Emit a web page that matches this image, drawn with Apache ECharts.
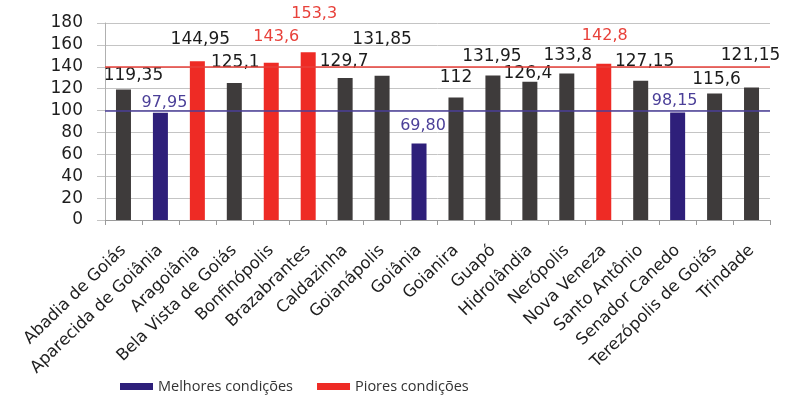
<!DOCTYPE html>
<html>
<head>
<meta charset="utf-8">
<script src="https://cdn.jsdelivr.net/npm/echarts@6/dist/echarts.min.js"></script>
<style>
  html, body { margin: 0; padding: 0; background: #ffffff; }
  #chart { width: 787px; height: 396px; }
</style>
</head>
<body>
<div id="chart"></div>
<script>
// Municípios da região
const categories = [
  'Abadia de Goiás', 'Aparecida de Goiânia', 'Aragoiânia', 'Bela Vista de Goiás',
  'Bonfinópolis', 'Brazabrantes', 'Caldazinha', 'Goianápolis', 'Goiânia', 'Goianira',
  'Guapó', 'Hidrolândia', 'Nerópolis', 'Nova Veneza', 'Santo Antônio',
  'Senador Canedo', 'Terezópolis de Goiás', 'Trindade'
];

// Índice por município, como é escrito nos rótulos
const valueTexts = [
  '119,35', '97,95', '144,95', '125,1', '143,6', '153,3', '129,7', '131,85', '69,80',
  '112', '131,95', '126,4', '133,8', '142,8', '127,15', '98,15', '115,6', '121,15'
];
const values = valueTexts.map(t => parseFloat(t.replace(',', '.')));

// Cor do rótulo: 'n' preto, 'm' melhores, 'p' piores
const labelTone = [
  'n', 'm', 'n', 'n', 'p', 'p', 'n', 'n', 'm',
  'n', 'n', 'n', 'n', 'p', 'n', 'm', 'n', 'n'
];

// Limites de referência
const betterLimit = 100;   // abaixo: melhores condições
const worseLimit = 140;    // acima: piores condições

// Eixo Y
const yTicks = [0, 20, 40, 60, 80, 100, 120, 140, 160, 180];

// Deslocamento de cada rótulo em relação ao topo da barra [dx, dy]
const labelShift = [
  [10, -5], [4, -2], [3, -13], [1, -12], [5, -18], [6, -30], [-1, -8], [0, -28], [4, -10],
  [0, -11], [-1, -11], [-2, 0], [1, -9], [1, -20], [4, -11], [-3, -4], [2, -5], [-1, -23]
];

const FONT = 'DejaVu Sans';
const GRAY = '#3e3b3b';
const BLUE = '#2e1f7a';
const RED = '#ee2b25';
const BLUE_TXT = '#4b3f98';
const RED_TXT = '#e8413a';

const toneStyle = {
  n: { color: '#1c1c1c', fontSize: 17 },
  m: { color: BLUE_TXT, fontSize: 16 },
  p: { color: RED_TXT, fontSize: 16 }
};

function groupOf(v) {
  if (v < betterLimit) return 'melhor';
  if (v > worseLimit) return 'pior';
  return 'demais';
}

function buildData(group) {
  return values.map((v, i) => {
    if (groupOf(v) !== group) return '-';
    const tone = toneStyle[labelTone[i]];
    return {
      value: v,
      label: {
        show: true,
        position: 'top',
        align: 'center',
        distance: 0,
        offset: labelShift[i],
        formatter: valueTexts[i],
        color: tone.color,
        fontFamily: FONT,
        fontSize: tone.fontSize
      }
    };
  });
}

const chart = echarts.init(document.getElementById('chart'), null, { renderer: 'canvas' });

chart.setOption({
  animation: false,
  backgroundColor: '#ffffff',
  grid: { left: 105, right: 17, top: 23, bottom: 176, containLabel: false },
  legend: {
    data: ['Melhores condições', 'Piores condições'],
    left: 115,
    top: 374,
    itemWidth: 33,
    itemHeight: 7,
    itemGap: 24,
    icon: 'rect',
    textStyle: { fontFamily: 'Open Sans', fontSize: 14.5, color: '#333' }
  },
  xAxis: {
    type: 'category',
    data: categories,
    boundaryGap: true,
    axisLine: { show: true, lineStyle: { color: '#9a9a9a', width: 1 } },
    axisTick: { show: true, length: 5, lineStyle: { color: '#9a9a9a' } },
    axisLabel: {
      rotate: 44,
      interval: 0,
      margin: 28,
      fontFamily: FONT,
      fontSize: 16.5,
      color: '#1e1e1e'
    }
  },
  yAxis: {
    type: 'value',
    min: yTicks[0],
    max: yTicks[yTicks.length - 1],
    interval: yTicks[1] - yTicks[0],
    axisLine: { show: true, lineStyle: { color: '#b0b0b0' } },
    axisTick: { show: true, length: 8, lineStyle: { color: '#c4c4c4' } },
    splitLine: { show: true, lineStyle: { color: '#c4c4c4', width: 1 } },
    axisLabel: {
      margin: 22,
      fontFamily: FONT,
      fontSize: 17,
      color: '#1e1e1e'
    }
  },
  series: [
    {
      name: 'Demais',
      type: 'bar',
      barWidth: 15,
      barGap: '-100%',
      itemStyle: { color: GRAY },
      data: buildData('demais'),
      markLine: {
        silent: true,
        symbol: 'none',
        label: { show: false },
        data: [
          { yAxis: worseLimit, lineStyle: { color: RED_TXT, width: 1.5, type: 'solid' } },
          { yAxis: betterLimit, lineStyle: { color: BLUE_TXT, width: 1.5, type: 'solid' } }
        ]
      }
    },
    {
      name: 'Melhores condições',
      type: 'bar',
      barWidth: 15,
      barGap: '-100%',
      itemStyle: { color: BLUE },
      data: buildData('melhor')
    },
    {
      name: 'Piores condições',
      type: 'bar',
      barWidth: 15,
      barGap: '-100%',
      itemStyle: { color: RED },
      data: buildData('pior')
    }
  ]
});
</script>
</body>
</html>
